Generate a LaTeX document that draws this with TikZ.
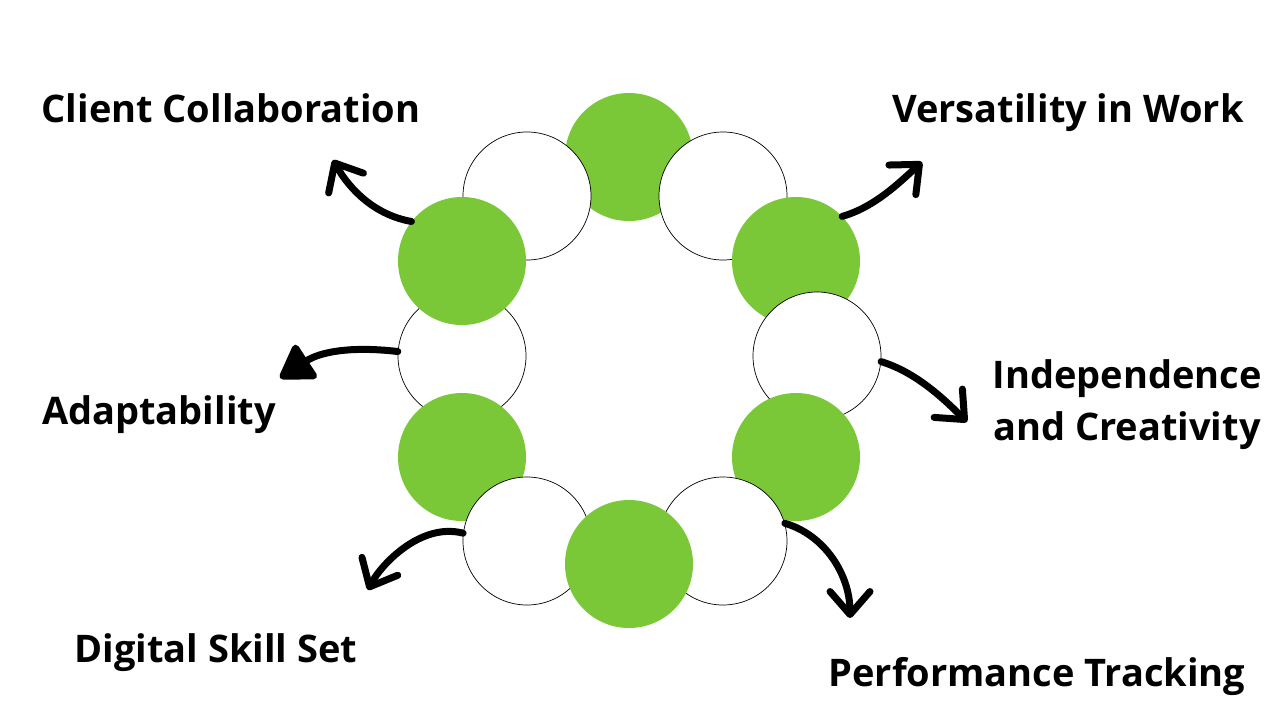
\documentclass[tikz,border=0pt]{standalone}
\usepackage{fontspec}
\setmainfont{Open Sans}
\usepackage{tikz}
\usetikzlibrary{arrows.meta}
\definecolor{leafgreen}{RGB}{122,200,56}

\begin{document}
\begin{tikzpicture}[
      x=1pt, y=-1pt,
      gbead/.style={circle, fill=leafgreen, minimum size=128pt, inner sep=0pt},
      wbead/.style={circle, draw=black, line width=0.7pt, fill=white, minimum size=128pt, inner sep=0pt},
      lab/.style={font=\fontsize{38}{52}\selectfont\bfseries, anchor=base, inner sep=0pt},
      curl/.style={line width=7pt, line cap=round, -{Straight Barb[length=23pt,width=40pt,round]}},
      curltri/.style={line width=7pt, line cap=round, -{Triangle[length=36pt,width=44pt,round]}}
    ]
      \useasboundingbox (0,0) rectangle (1280,720);

      % ring of beads (drawing order gives the overlaps)
      \node[gbead] (g1) at (629,157) {};
      \node[wbead] (w1) at (527,196) {};
      \node[wbead] (w2) at (723,196) {};
      \node[wbead] (w3) at (462,356) {};
      \node[gbead] (g2) at (462,261) {};
      \node[gbead] (g4) at (462,457) {};
      \node[wbead] (w5) at (527,541) {};
      \node[gbead] (g3) at (796,261) {};
      \node[wbead] (w4) at (817,356) {};
      \node[gbead] (g5) at (796,457) {};
      \node[wbead] (w6) at (723,541) {};
      \node[gbead] (g6) at (629,564) {};

      % arrow ends
      \coordinate (tclient) at (333,160);
      \coordinate (tversa) at (922,162);
      \coordinate (tadapt) at (280,378);
      \coordinate (tindep) at (967,422);
      \coordinate (tdigital) at (368,590);
      \coordinate (tperf) at (850,618);

      % curved arrows
      \draw[curl] (g2.142) .. controls (375,215) and (350,190) .. (tclient);
      \draw[curl] (g3.44) .. controls (875,207) and (900,182) .. (tversa);
      \draw[curltri] (w3.176) .. controls (350,346) and (320,352) .. (tadapt);
      \draw[curl] (w4.-5) .. controls (915,372) and (942,397) .. (tindep);
      \draw[curl] (w5.173) .. controls (420,522) and (380,566) .. (tdigital);
      \draw[curl] (w6.16) .. controls (825,535) and (850,575) .. (tperf);

      % labels
      \node[lab] (client) at (231,122) {Client Collaboration};
      \node[lab] (versa) at (1068,122) {Versatility in Work};
      \node[lab] (adapt) at (159,424) {Adaptability};
      \node[lab, align=center, anchor=center] (indep) at (1127,405) {Independence\\and Creativity};
      \node[lab] (digital) at (216,662) {Digital Skill Set};
      \node[lab] (perf) at (1037,686) {Performance Tracking};
    \end{tikzpicture}
\end{document}
